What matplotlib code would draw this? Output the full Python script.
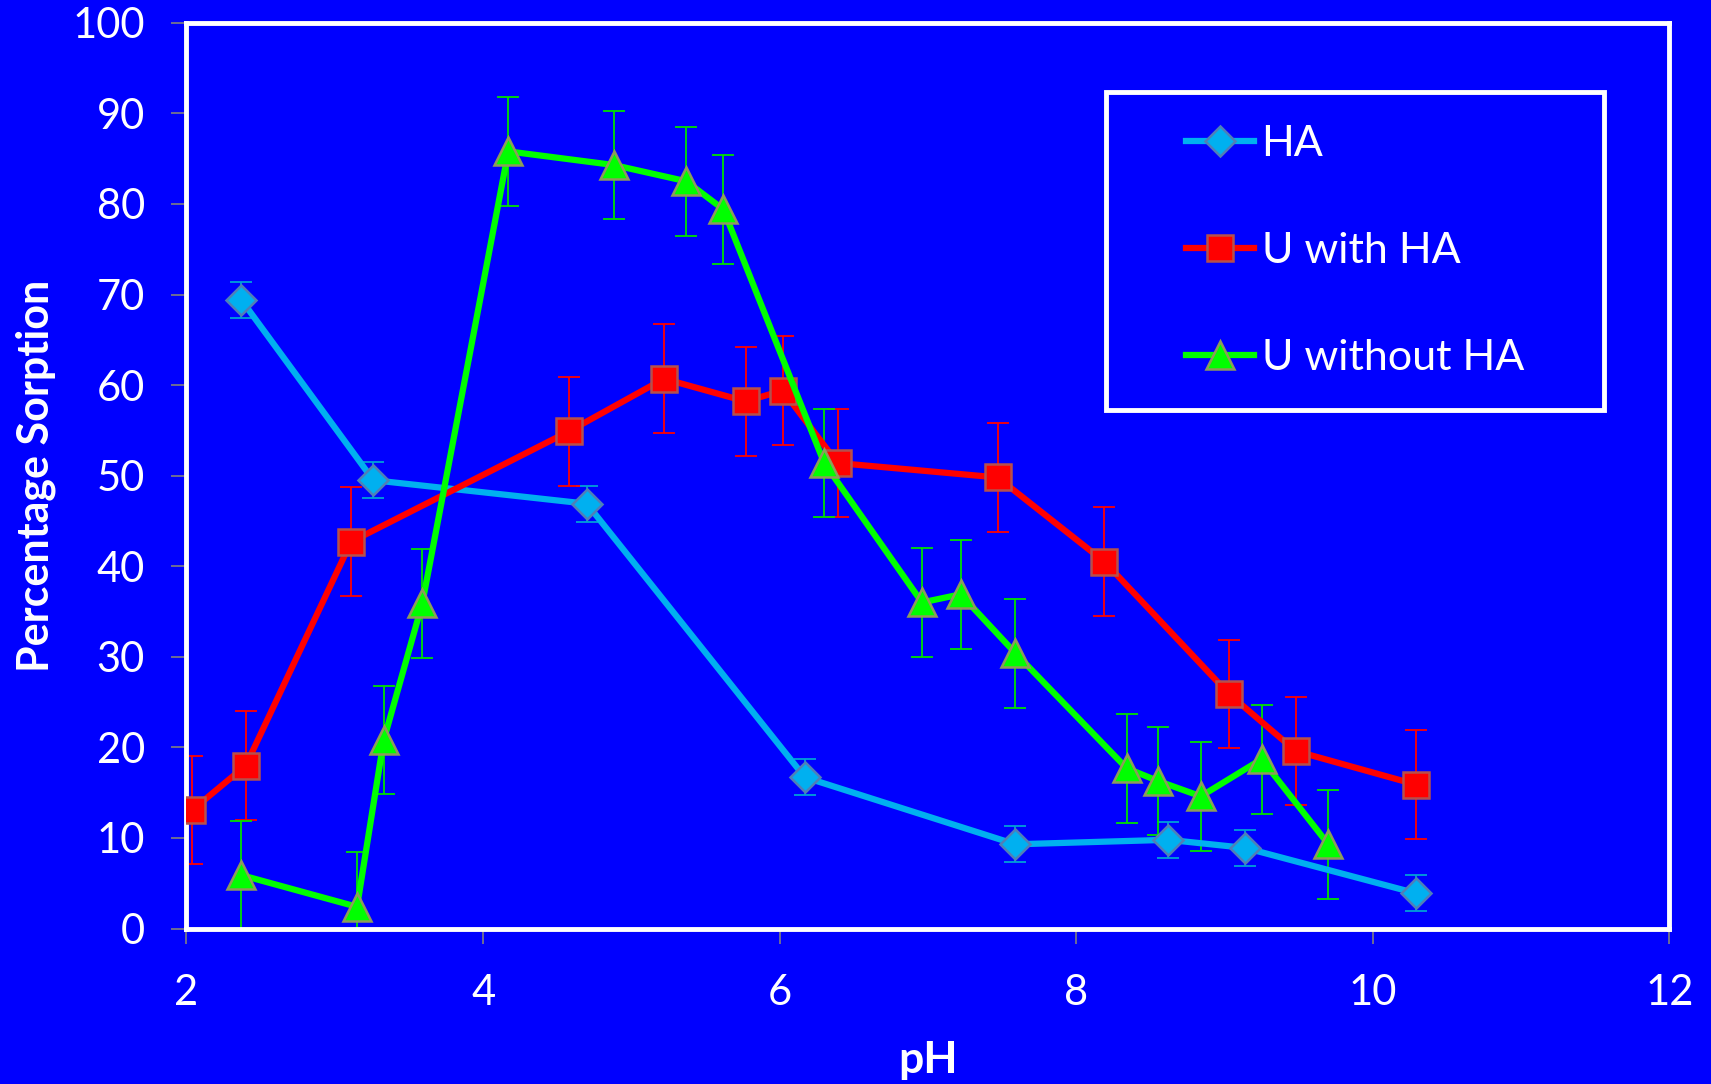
import matplotlib
matplotlib.use('Agg')
import matplotlib.pyplot as plt
from matplotlib.patches import Rectangle
import numpy as np

plt.rcParams['font.family'] = ['Lato', 'DejaVu Sans']

# HA
ha_ph = [2.37, 3.26, 4.70, 6.17, 7.59, 8.62, 9.14, 10.29]
ha_val = [69.4, 49.5, 46.9, 16.7, 9.3, 9.8, 8.9, 3.9]
ha_err = [2, 2, 2, 2, 2, 2, 2, 2]

# U with HA
uha_ph = [2.04, 2.40, 3.11, 4.58, 5.22, 5.77, 6.02, 6.39, 7.47, 8.19, 9.03, 9.48, 10.29]
uha_val = [13.1, 18.0, 42.7, 54.9, 60.7, 58.2, 59.4, 51.4, 49.8, 40.5, 25.9, 19.6, 15.9]
uha_err = [6, 6, 6, 6, 6, 6, 6, 6, 6, 6, 6, 6, 6]

# U without HA
u_ph = [2.37, 3.15, 3.33, 3.59, 4.17, 4.88, 5.37, 5.62, 6.30, 6.96, 7.22, 7.59,
        8.34, 8.55, 8.84, 9.25, 9.70]
u_val = [5.9, 2.4, 20.8, 35.9, 85.8, 84.3, 82.5, 79.4, 51.4, 36.0, 36.9, 30.4,
         17.7, 16.3, 14.6, 18.7, 9.3]
u_err = [6] * 17

bg = '#0000FF'
fig = plt.figure(figsize=(17.11, 10.84), dpi=100, facecolor=bg)
ax = fig.add_axes([0.109, 0.1434, 0.8667, 0.8356])
ax.set_facecolor(bg)

series = [
    (ha_ph, ha_val, ha_err, '#00B0F0', 'D', 15, '#4F7FB8', '#00A0D8', 'HA'),
    (uha_ph, uha_val, uha_err, '#FF0000', 's', 19, '#B5504C', '#FF0000', 'U with HA'),
    (u_ph, u_val, u_err, '#00FF00', '^', 20, '#8E9B5C', '#00E000', 'U without HA'),
]
handles = []
for x, y, e, c, m, ms, ec, errc, lab in series:
    ax.errorbar(x, y, yerr=e, fmt='none', ecolor=errc, elinewidth=1.3,
                capsize=8, capthick=1.3, zorder=2, clip_on=True)
    h, = ax.plot(x, y, color=c, lw=4.5, marker=m, markersize=ms,
                 markerfacecolor=c, markeredgecolor=ec, markeredgewidth=1.8,
                 zorder=3, label=lab)
    handles.append(h)

ax.set_xlim(2, 12)
ax.set_ylim(0, 100)
ax.set_xticks([2, 4, 6, 8, 10, 12])
ax.set_yticks(range(0, 101, 10))
for s in ax.spines.values():
    s.set_color('white')
    s.set_linewidth(3.5)
ax.tick_params(axis='both', colors='#808080', labelcolor='white', labelsize=30,
               length=11, width=1.2, direction='out')
ax.tick_params(axis='x', pad=22)
ax.tick_params(axis='y', pad=19)

ax.set_xlabel('pH', color='white', fontsize=32, fontweight='bold', labelpad=20)
ax.set_ylabel('Percentage Sorption', color='white', fontsize=31, fontweight='bold', labelpad=12)

# legend box drawn separately so the padding matches the original
ax.add_patch(Rectangle((0.620, 0.5726), 0.336, 0.351, transform=ax.transAxes,
                       facecolor=bg, edgecolor='white', lw=3.5, zorder=4))
leg = ax.legend(handles=handles, loc='center', bbox_to_anchor=(0.788, 0.748),
                fontsize=31, frameon=False, labelspacing=1.6, handlelength=1.57,
                handletextpad=0.18, borderpad=0, borderaxespad=0)
for t in leg.get_texts():
    t.set_color('white')
leg.set_zorder(5)

fig.savefig('out.png', dpi=100, facecolor=bg)
